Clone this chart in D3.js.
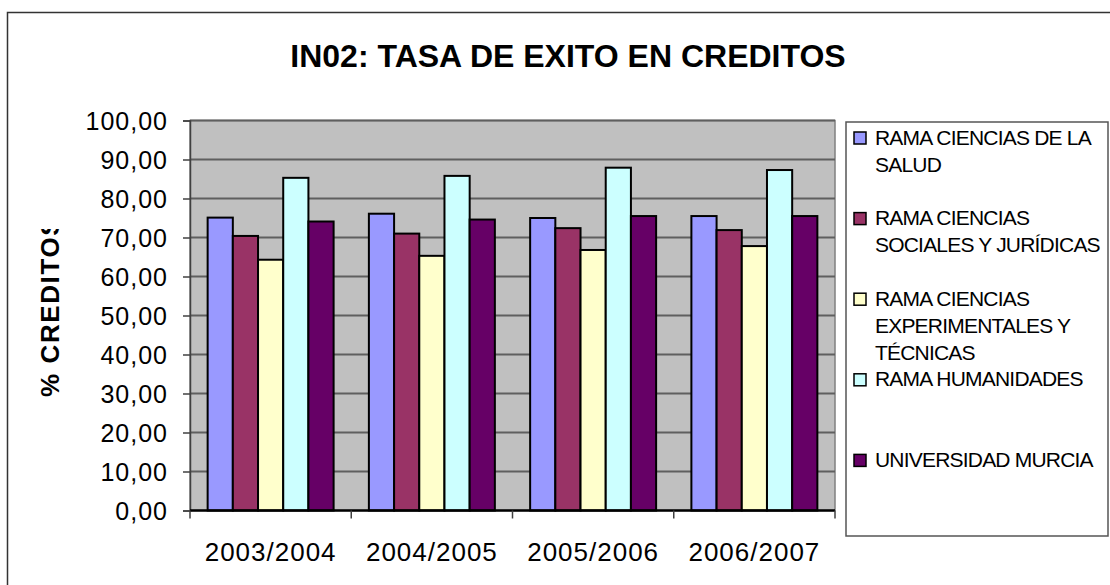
<!DOCTYPE html>
<html><head><meta charset="utf-8">
<script src="https://cdn.jsdelivr.net/npm/d3@7"></script>
<style>body{margin:0;background:#fff}svg{display:block}text{font-family:"Liberation Sans",Arial,sans-serif}</style>
</head><body>
<script>
const categories = ["2003/2004","2004/2005","2005/2006","2006/2007"];
const seriesNames = [
  "RAMA CIENCIAS DE LA SALUD",
  "RAMA CIENCIAS SOCIALES Y JURÍDICAS",
  "RAMA CIENCIAS EXPERIMENTALES Y TÉCNICAS",
  "RAMA HUMANIDADES",
  "UNIVERSIDAD MURCIA"
];
const legendLines = [
  ["RAMA CIENCIAS DE LA","SALUD"],
  ["RAMA CIENCIAS","SOCIALES Y JURÍDICAS"],
  ["RAMA CIENCIAS","EXPERIMENTALES Y","TÉCNICAS"],
  ["RAMA HUMANIDADES"],
  ["UNIVERSIDAD MURCIA"]
];
const salud      = [75.1, 76.1, 75.0, 75.5];
const sociales   = [70.4, 71.0, 72.4, 71.9];
const experim    = [64.3, 65.3, 66.8, 67.8];
const humanidades= [85.3, 85.8, 87.9, 87.3];
const universidad= [74.1, 74.6, 75.5, 75.5];
const seriesValues = [salud, sociales, experim, humanidades, universidad];
const colors = ["#9999FF","#993366","#FFFFCC","#CCFFFF","#660066"];
const yTicks = [0,10,20,30,40,50,60,70,80,90,100];
const title = "IN02: TASA DE EXITO EN CREDITOS";
const yTitle = "% CREDITOS";

const W = 1110, H = 585;
const plot = {x0:190, x1:835, y0:120.5, y1:510.5};

const svg = d3.select("body").append("svg").attr("width",W).attr("height",H);

// outer border
svg.append("rect").attr("x",7.5).attr("y",12.5).attr("width",W+20).attr("height",H+20)
  .attr("fill","#fff").attr("stroke","#333").attr("stroke-width",1.5);

const x0 = d3.scaleBand().domain(categories).range([plot.x0, plot.x1]).paddingInner(0).paddingOuter(0);
const x1 = d3.scaleBand().domain(d3.range(seriesNames.length)).range([0, x0.bandwidth()]).paddingInner(0).paddingOuter(0.7);
const y = d3.scaleLinear().domain([0,100]).range([plot.y1, plot.y0]);

// plot background
svg.append("rect").attr("x",plot.x0).attr("y",plot.y0).attr("width",plot.x1-plot.x0).attr("height",plot.y1-plot.y0)
  .attr("fill","#C0C0C0").attr("stroke","#808080").attr("stroke-width",1.5);

// gridlines
svg.append("g").selectAll("line").data(yTicks.slice(1)).join("line")
  .attr("x1",plot.x0).attr("x2",plot.x1).attr("y1",d=>y(d)).attr("y2",d=>y(d))
  .attr("stroke","#5f5f5f").attr("stroke-width",2);

// bars
const groups = svg.append("g").selectAll("g").data(categories).join("g")
  .attr("transform",c=>`translate(${x0(c)},0)`);
groups.selectAll("rect").data((c,ci)=>seriesValues.map((s,si)=>({si, v:s[ci]}))).join("rect")
  .attr("x",d=>x1(d.si)).attr("width",x1.bandwidth())
  .attr("y",d=>y(d.v)).attr("height",d=>y(0)-y(d.v))
  .attr("fill",d=>colors[d.si]).attr("stroke","#000").attr("stroke-width",2);

// y axis
const yAxis = d3.axisLeft(y).tickValues(yTicks).tickSize(7).tickPadding(15)
  .tickFormat(d=>d3.format(".2f")(d).replace(".",","));
const ya = svg.append("g").attr("transform",`translate(${plot.x0},0)`).call(yAxis);
ya.select(".domain").attr("stroke","#404040").attr("stroke-width",1.5);
ya.selectAll(".tick line").attr("stroke","#404040").attr("stroke-width",1.5);
ya.selectAll(".tick text").attr("font-size",25).attr("letter-spacing","1px").attr("fill","#000")
  .attr("font-family","Liberation Sans, Arial, sans-serif").attr("dy","0.35em");

// x axis
const xa = svg.append("g").attr("transform",`translate(0,${plot.y1})`);
xa.append("line").attr("x1",plot.x0).attr("x2",plot.x1).attr("stroke","#000").attr("stroke-width",2.5);
xa.selectAll("line.t").data(categories.concat(["end"])).join("line").attr("class","t")
  .attr("x1",(c,i)=> i<categories.length ? x0(c) : plot.x1).attr("x2",(c,i)=> i<categories.length ? x0(c) : plot.x1)
  .attr("y1",0).attr("y2",8).attr("stroke","#404040").attr("stroke-width",1.5);
xa.selectAll("text").data(categories).join("text")
  .attr("x",c=>x0(c)+x0.bandwidth()/2).attr("y",50)
  .attr("text-anchor","middle").attr("font-size",26).attr("letter-spacing","1px").text(c=>c);

// title
svg.append("text").attr("x",568).attr("y",67).attr("text-anchor","middle")
  .attr("font-size",32).attr("font-weight","bold").text(title);

// y title with clip
svg.append("clipPath").attr("id","yclip").append("rect").attr("x",0).attr("y",229).attr("width",120).attr("height",300);
svg.append("g").attr("clip-path","url(#yclip)").append("text")
  .attr("transform","translate(59,397) rotate(-90)")
  .attr("text-anchor","start").attr("font-size",26).attr("font-weight","bold").attr("letter-spacing","1.6px")
  .text(yTitle);

// legend
const lg = svg.append("g");
lg.append("rect").attr("x",846).attr("y",122).attr("width",262).attr("height",414)
  .attr("fill","#fff").attr("stroke","#555").attr("stroke-width",1.5);
seriesNames.forEach((name,i)=>{
  const cy = 138 + i*80.6;
  lg.append("rect").attr("x",854).attr("y",cy-6).attr("width",12).attr("height",12)
    .attr("fill",colors[i]).attr("stroke","#000").attr("stroke-width",1.5);
  legendLines[i].forEach((ln,j)=>{
    lg.append("text").attr("x",875).attr("y",cy-1+j*27+7.5)
      .attr("font-size",21).attr("letter-spacing","-0.8px").text(ln);
  });
});
</script>
</body></html>
